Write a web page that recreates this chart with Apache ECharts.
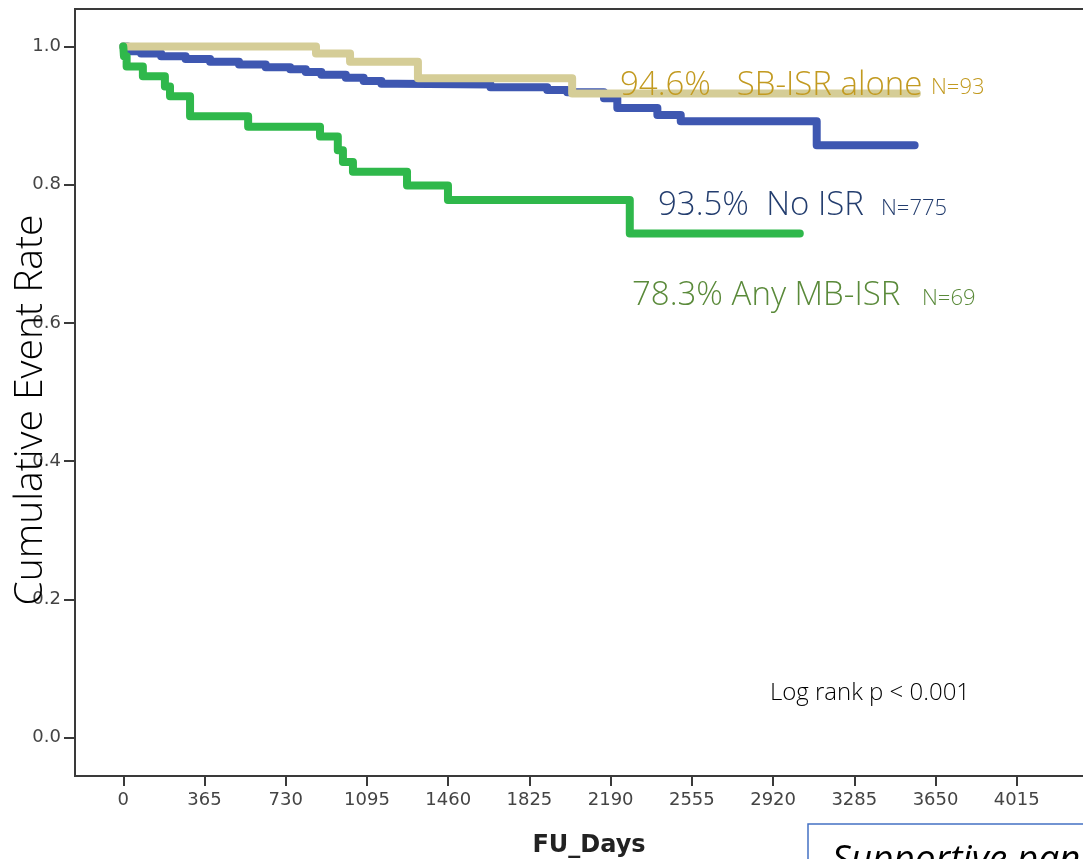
<!DOCTYPE html>
<html>
<head>
<meta charset="utf-8">
<script src="https://cdn.jsdelivr.net/npm/echarts@6/dist/echarts.min.js"></script>
<style>
html,body{margin:0;padding:0;background:#fff;}
#chart{width:1083px;height:859px;}
</style>
</head>
<body>
<div id="chart"></div>
<script>
// ---- data ----
const xTickValues = [0, 365, 730, 1095, 1460, 1825, 2190, 2555, 2920, 3285, 3650, 4015];
const yTickValues = [0.0, 0.2, 0.4, 0.6, 0.8, 1.0];

const noIsrDays = [0, 20, 80, 170, 280, 390, 520, 640, 750, 820, 890, 1000, 1080, 1160, 1230, 1650, 1905, 1995, 2160, 2220, 2400, 2505, 3116, 3556];
const noIsrSurv = [1.0, 0.993, 0.990, 0.986, 0.982, 0.978, 0.974, 0.970, 0.967, 0.963, 0.959, 0.955, 0.950, 0.946, 0.945, 0.941, 0.937, 0.934, 0.925, 0.911, 0.901, 0.892, 0.857, 0.857];

const sbIsrDays = [0, 866, 1019, 1324, 2017, 3566];
const sbIsrSurv = [1.0, 0.990, 0.978, 0.954, 0.932, 0.932];

const mbIsrDays = [0, 3, 15, 88, 187, 210, 300, 561, 884, 964, 987, 1032, 1275, 1459, 2276, 3040];
const mbIsrSurv = [1.0, 0.986, 0.971, 0.957, 0.942, 0.928, 0.899, 0.884, 0.870, 0.850, 0.833, 0.819, 0.799, 0.778, 0.7295, 0.7295];

function pairs(d, s) { return d.map((v, i) => [v, s[i]]); }

const chart = echarts.init(document.getElementById('chart'), null, {renderer: 'canvas'});

const axisLineStyle = {color: '#3a3a3a', width: 2};
const tickFont = {fontFamily: 'DejaVu Sans', fontSize: 18, color: '#444'};

function kmSeries(name, data, color) {
  return {
    name: name,
    type: 'line',
    step: 'end',
    data: data,
    showSymbol: false,
    symbol: 'none',
    lineStyle: {color: color, width: 8, cap: 'round', join: 'round'},
    silent: true,
    animation: false
  };
}

// text helper: y given as baseline, converted for zrender 'middle' alignment
function label(text, x, baseline, size, weight, color, align, style) {
  return {type: 'text', x: x, y: baseline - 0.28 * size, z: 100,
    style: {text: text, font: (style || '') + ' ' + weight + ' ' + size + 'px "Open Sans"', fill: color, align: align, verticalAlign: 'middle'}};
}

const option = {
  animation: false,
  backgroundColor: '#ffffff',
  grid: {left: 75, top: 9, width: 1023, height: 767, outerBoundsMode: 'none', containLabel: false,
    show: true, borderColor: '#3a3a3a', borderWidth: 2, backgroundColor: 'transparent'},
  xAxis: {
    type: 'value',
    min: -217,
    max: 4380,
    axisLine: {show: true, onZero: false, lineStyle: axisLineStyle},
    axisTick: {show: true, length: 10, lineStyle: axisLineStyle, customValues: xTickValues},
    axisLabel: Object.assign({margin: 15, customValues: xTickValues, formatter: v => String(v)}, tickFont),
    splitLine: {show: false}
  },
  yAxis: {
    type: 'value',
    min: -0.0554,
    max: 1.0543,
    axisLine: {show: true, onZero: false, lineStyle: axisLineStyle},
    axisTick: {show: true, length: 11, lineStyle: axisLineStyle, customValues: yTickValues},
    axisLabel: Object.assign({margin: 14, customValues: yTickValues, formatter: v => v.toFixed(1)}, tickFont),
    splitLine: {show: false}
  },
  series: [
    kmSeries('No ISR', pairs(noIsrDays, noIsrSurv), '#3E57B1'),
    kmSeries('SB-ISR alone', pairs(sbIsrDays, sbIsrSurv), '#D5CD97'),
    kmSeries('Any MB-ISR', pairs(mbIsrDays, mbIsrSurv), '#2FB84B')
  ],
  graphic: [
    {type: 'text', x: 31, y: 410, rotation: Math.PI / 2, z: 100,
      style: {text: 'Cumulative Event Rate', font: '300 39px "Open Sans"', fill: '#000', align: 'center', verticalAlign: 'middle'}},
    {type: 'text', x: 589, y: 846, z: 100,
      style: {text: 'FU_Days', font: 'bold 24px "DejaVu Sans"', fill: '#222', align: 'center', verticalAlign: 'middle'}},
    label('94.6%   SB-ISR alone', 620, 95, 33, 300, '#C29A20', 'left'),
    label('N=93', 931, 94, 22, 300, '#C29A20', 'left'),
    label('93.5%  No ISR', 658, 215, 33, 300, '#233D6E', 'left'),
    label('N=775', 881, 215, 22, 300, '#233D6E', 'left'),
    label('78.3% Any MB-ISR', 632, 305, 33, 300, '#5A8A3A', 'left'),
    label('N=69', 922, 305, 22, 300, '#5A8A3A', 'left'),
    label('Log rank p < 0.001', 870, 700, 24, 300, '#000', 'center'),
    {type: 'rect', z: 100, shape: {x: 808, y: 824, width: 320, height: 80},
      style: {fill: '#fff', stroke: '#4472C4', lineWidth: 1.5}},
    label('Supportive panel', 832, 871, 37, 'normal', '#000', 'left', 'italic')
  ]
};
chart.setOption(option);
</script>
</body>
</html>
